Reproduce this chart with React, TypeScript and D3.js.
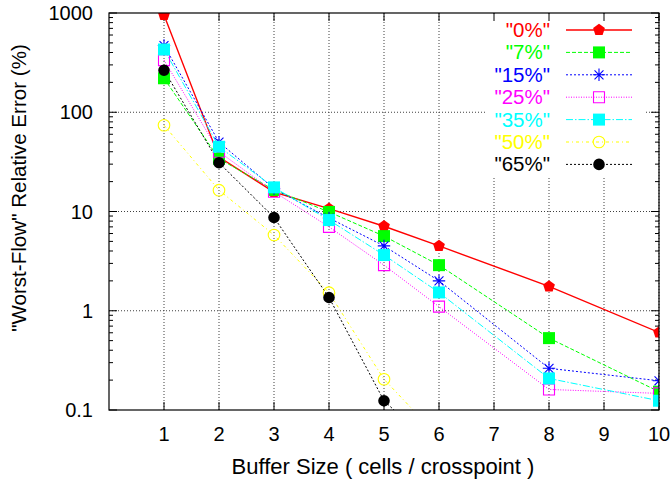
import React from "react";
import * as d3 from "d3";

// Buffer sizes (cells / crosspoint)
const bufferSizes = [1, 2, 3, 4, 5, 6, 8, 10];
const xTicks = [1, 2, 3, 4, 5, 6, 7, 8, 9, 10];
const yTicks = [0.1, 1, 10, 100, 1000];
const yTickLabels = ["0.1", "1", "10", "100", "1000"];

// "Worst-Flow" relative error (%) for each load level
const load0 = [955, 35.3, 15.7, 10.7, 7.1, 4.5, 1.76, 0.605];
const load7 = [220, 34, 16.5, 9.9, 5.65, 2.88, 0.53, 0.153];
const load15 = [470, 50, 17, 8.6, 4.5, 2.0, 0.263, 0.197];
const load25 = [335, 40, 15.8, 7.0, 2.88, 1.1, 0.161, 0.147];
const load35 = [429, 44.9, 17.5, 8.2, 3.64, 1.53, 0.208, 0.124];
const load50 = [74, 16.4, 5.8, 1.52, 0.204, 0.053];
const load65 = [265, 31, 8.7, 1.36, 0.124, 0.038];

const seriesNames = ['"0%"', '"7%"', '"15%"', '"25%"', '"35%"', '"50%"', '"65%"'];
const seriesValues = [load0, load7, load15, load25, load35, load50, load65];
const seriesColors = ["#ff0000", "#00ff00", "#0000ff", "#ff00ff", "#00ffff", "#ffff00", "#000000"];
const seriesDashes = ["none", "4,2", "2,2", "1,1.5", "7,2,1.5,2", "3,3,1,3", "2,2"];
const seriesMarkers = ["pentagon", "square", "asterisk", "openSquare", "square", "openCircle", "circle"];

const W = 672;
const H = 484;
const left = 109;
const right = 659;
const top = 13;
const bottom = 410;

const FONT = "'Liberation Sans', Arial, Helvetica, sans-serif";

const x = d3.scaleLinear().domain([0, 10]).range([left, right]);
const y = d3.scaleLog().domain([0.1, 1000]).range([bottom, top]);

function markerPath(kind: string, r: number): string {
  if (kind === "pentagon") {
    const pts: [number, number][] = [];
    for (let i = 0; i < 5; i++) {
      const a = -Math.PI / 2 + (i * 2 * Math.PI) / 5;
      pts.push([r * Math.cos(a), r * Math.sin(a)]);
    }
    return "M" + pts.map((p) => p.join(",")).join("L") + "Z";
  }
  if (kind === "square" || kind === "openSquare") {
    return `M${-r},${-r}H${r}V${r}H${-r}Z`;
  }
  if (kind === "circle" || kind === "openCircle") {
    return `M${r},0A${r},${r} 0 1,1 ${-r},0A${r},${r} 0 1,1 ${r},0Z`;
  }
  // asterisk: horizontal, vertical and two diagonals
  const d = r * 0.72;
  return `M${-r},0H${r}M0,${-r}V${r}M${-d},${-d}L${d},${d}M${-d},${d}L${d},${-d}`;
}

function Marker({ kind, color, cx, cy }: { kind: string; color: string; cx: number; cy: number }) {
  const sizes: Record<string, number> = {
    pentagon: 6.2,
    square: 6,
    openSquare: 5.5,
    circle: 5.8,
    openCircle: 5.8,
    asterisk: 6.2,
  };
  const r = sizes[kind];
  const filled = kind === "pentagon" || kind === "square" || kind === "circle";
  return (
    <path
      d={markerPath(kind, r)}
      transform={`translate(${cx},${cy})`}
      fill={filled ? color : "none"}
      stroke={color}
      strokeWidth={filled ? 0 : 1.1}
    />
  );
}

export default function App() {
  const line = d3
    .line<number>()
    .x((_, i) => x(bufferSizes[i]))
    .y((v) => y(v));

  const minorY: number[] = [];
  for (let e = -1; e < 3; e++) {
    for (let m = 2; m <= 9; m++) minorY.push(m * Math.pow(10, e));
  }

  const legendTextX = 550;
  const legendLineX0 = 566;
  const legendLineX1 = 632;
  const legendMarkX = 599;
  const legendY0 = 30;
  const legendDy = 22.4;

  return (
    <svg width={W} height={H} style={{ position: "absolute", left: 0, top: 0, background: "#fff" }}>
      <defs>
        <clipPath id="plotArea">
          <rect x={left} y={top} width={right - left} height={bottom - top} />
        </clipPath>
      </defs>
      <rect x={0} y={0} width={W} height={H} fill="#fff" />

      {/* grid */}
      <g stroke="#000" strokeWidth={1} strokeDasharray="1,2" opacity={0.75}>
        {xTicks.map((t) => (
          <line key={"gx" + t} x1={x(t)} x2={x(t)} y1={top} y2={bottom} />
        ))}
        {yTicks.slice(1, -1).map((t) => (
          <line key={"gy" + t} x1={left} x2={right} y1={y(t)} y2={y(t)} />
        ))}
      </g>

      {/* legend background hides the grid */}
      <rect x={486} y={top + 1} width={158} height={164} fill="#fff" />

      {/* ticks */}
      <g stroke="#000" strokeWidth={1}>
        {xTicks.map((t) => (
          <g key={"tx" + t}>
            <line x1={x(t)} x2={x(t)} y1={bottom} y2={bottom - 8} />
            <line x1={x(t)} x2={x(t)} y1={top} y2={top + 8} />
          </g>
        ))}
        {yTicks.map((t) => (
          <g key={"ty" + t}>
            <line x1={left} x2={left + 8} y1={y(t)} y2={y(t)} />
            <line x1={right} x2={right - 8} y1={y(t)} y2={y(t)} />
          </g>
        ))}
        {minorY.map((t) => (
          <g key={"my" + t}>
            <line x1={left} x2={left + 4} y1={y(t)} y2={y(t)} />
            <line x1={right} x2={right - 4} y1={y(t)} y2={y(t)} />
          </g>
        ))}
      </g>

      {/* series */}
      <g clipPath="url(#plotArea)">
        {seriesValues.map((vals, si) => (
          <path
            key={"l" + si}
            d={line(vals) || ""}
            fill="none"
            stroke={seriesColors[si]}
            strokeWidth={si === 0 ? 1.4 : 1}
            strokeDasharray={seriesDashes[si]}
          />
        ))}
        {seriesValues.map((vals, si) =>
          vals.map((v, i) => (
            <Marker
              key={`m${si}-${i}`}
              kind={seriesMarkers[si]}
              color={seriesColors[si]}
              cx={x(bufferSizes[i])}
              cy={y(v)}
            />
          ))
        )}
      </g>

      {/* frame */}
      <rect x={left} y={top} width={right - left} height={bottom - top} fill="none" stroke="#000" strokeWidth={1.2} />

      {/* tick labels */}
      <g fontFamily={FONT} fontSize={20} fill="#000">
        {xTicks.map((t) => (
          <text key={"lx" + t} x={x(t)} y={441} textAnchor="middle">
            {t}
          </text>
        ))}
        {yTicks.map((t, i) => (
          <text key={"ly" + t} x={93} y={y(t) + 7} textAnchor="end">
            {yTickLabels[i]}
          </text>
        ))}
        <text x={383} y={474} textAnchor="middle" fontSize={22}>
          Buffer Size ( cells / crosspoint )
        </text>
        <text transform="translate(26,188) rotate(-90)" textAnchor="middle" fontSize={20.6}>
          "Worst-Flow" Relative Error (%)
        </text>
      </g>

      {/* legend */}
      <g fontFamily={FONT} fontSize={20.5}>
        {seriesNames.map((name, si) => {
          const ly = legendY0 + si * legendDy;
          return (
            <g key={"lg" + si}>
              <text x={legendTextX} y={ly + 7} textAnchor="end" fill={seriesColors[si]}>
                {name}
              </text>
              <line
                x1={legendLineX0}
                x2={legendLineX1}
                y1={ly}
                y2={ly}
                stroke={seriesColors[si]}
                strokeWidth={si === 0 ? 1.6 : 1}
                strokeDasharray={seriesDashes[si]}
              />
              <Marker kind={seriesMarkers[si]} color={seriesColors[si]} cx={legendMarkX} cy={ly} />
            </g>
          );
        })}
      </g>
    </svg>
  );
}
